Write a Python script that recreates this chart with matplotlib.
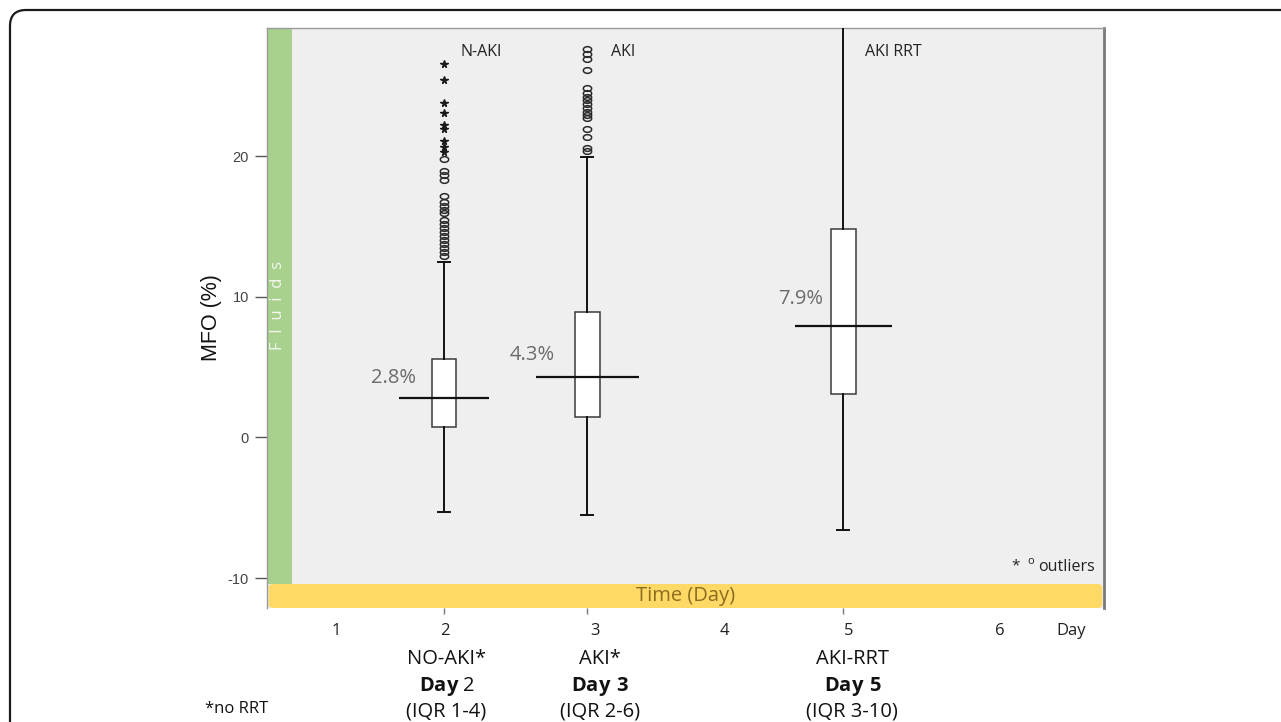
import numpy as np
import matplotlib
matplotlib.use("Agg")
import matplotlib.pyplot as plt
from matplotlib.patches import Rectangle, FancyBboxPatch
from matplotlib.path import Path
from matplotlib import transforms

plt.rcParams["font.family"] = ["Open Sans", "DejaVu Sans"]
plt.rcParams["mathtext.fontset"] = "custom"
plt.rcParams["mathtext.rm"] = "Open Sans"
plt.rcParams["mathtext.bf"] = "Open Sans:bold"

# ---- data -------------------------------------------------------------
groups = ["N-AKI", "AKI", "AKI RRT"]
box_day = [2.0, 3.12, 5.12]          # day at which each group is plotted
whisker_low = [-5.31, -5.52, -6.59]
q1 = [0.73, 1.45, 3.08]
median = [2.8, 4.3, 7.9]
q3 = [5.57, 8.91, 14.81]
whisker_high = [12.47, 19.93, 30.5]

outliers_nonaki = [19.78, 18.93, 18.65, 18.29, 17.15, 16.73, 16.44, 16.16, 15.95,
                   15.45, 15.16, 14.88, 14.60, 14.32, 14.03, 13.75, 13.47, 13.18, 12.90]
extremes_nonaki = [26.54, 25.40, 23.77, 23.06, 22.20, 21.95, 21.06, 20.64, 20.28]
outliers_aki = [27.60, 27.25, 26.89, 26.11, 24.84, 24.49, 24.20, 23.98, 23.70,
                23.41, 23.13, 22.91, 22.70, 21.92, 21.35, 20.57, 20.36]
outliers_rrt = []

day_labels = ["1", "2", "3", "4", "5", "6", "Day"]
group_names = ["NO-AKI*", "AKI*", "AKI-RRT"]
group_days = [r"$\mathbf{Day}$ 2", r"$\mathbf{Day\ 3}$", r"$\mathbf{Day\ 5}$"]
group_iqr = ["(IQR 1-4)", "(IQR 2-6)", "(IQR 3-10)"]
yticks = [-10, 0, 10, 20]

# ---- layout -----------------------------------------------------------
W, H = 1281, 722
fig = plt.figure(figsize=(W / 100, H / 100), dpi=100)
fig.patch.set_facecolor("white")

# rounded outer frame
frame = FancyBboxPatch((0.10, -1.0), 14.0, 7.12 + 1.0,
                       boxstyle="round,pad=0,rounding_size=0.16",
                       transform=fig.dpi_scale_trans, fill=False,
                       edgecolor="#1a1a1a", linewidth=1.6)
fig.patches.append(frame)

ax_l, ax_r, ax_t, ax_b = 267, 1104, 28, 608
ax = fig.add_axes([ax_l / W, 1 - ax_b / H, (ax_r - ax_l) / W, (ax_b - ax_t) / H])
ax.set_facecolor("#efefef")

px_per_day = 128.0
x0 = box_day[0] - (444 - ax_l) / px_per_day
ax.set_xlim(x0, x0 + (ax_r - ax_l) / px_per_day)
ax.set_ylim(-12.13, 29.10)

# coloured bands: fluids (left) and time (bottom)
band_h = (ax_b - 584) / (ax_b - ax_t)
band_w = 25 / (ax_r - ax_l)
ax.add_patch(Rectangle((0, band_h), band_w, 1 - band_h, transform=ax.transAxes,
                       facecolor="#a9d18e", edgecolor="none", zorder=1))
ax.add_patch(FancyBboxPatch((0.002, 0.0), 0.996, band_h,
                            boxstyle="round,pad=0,rounding_size=0.006",
                            transform=ax.transAxes, facecolor="#ffd966",
                            edgecolor="none", zorder=1, clip_on=False))
ax.text(band_w / 2 - 0.002, (ax_b - 306) / (ax_b - ax_t), "F  l  u  i  d  s",
        transform=ax.transAxes, rotation=90, ha="center", va="center",
        fontsize=12, color="#f3f8ef", zorder=2)
ax.text(0.5, band_h / 2, "Time (Day)", transform=ax.transAxes, ha="center",
        va="center", fontsize=14.5, color="#8c6d1f", zorder=2)

# boxes
stats = []
for i in range(len(groups)):
    stats.append(dict(label=groups[i], whislo=whisker_low[i], q1=q1[i],
                      med=median[i], q3=q3[i], whishi=whisker_high[i],
                      fliers=[]))
ax.bxp(stats, positions=box_day, widths=0.19, patch_artist=True,
       showfliers=False, manage_ticks=False,
       boxprops=dict(facecolor="white", edgecolor="#3a3a3a", linewidth=1.1),
       whiskerprops=dict(color="#111111", linewidth=1.4),
       capprops=dict(color="#111111", linewidth=1.4),
       medianprops=dict(linewidth=0), zorder=3)

# wide median bars
med_half = [0.35, 0.40, 0.38]
for d, m, hw in zip(box_day, median, med_half):
    ax.plot([d - hw, d + hw], [m, m], color="#111111", linewidth=1.6, zorder=4,
            solid_capstyle="butt")

# outliers: open ellipses and stars for extremes
ellipse = Path(np.column_stack([np.cos(np.linspace(0, 2 * np.pi, 40)),
                                0.68 * np.sin(np.linspace(0, 2 * np.pi, 40))]))
for d, vals in zip(box_day, [outliers_nonaki, outliers_aki, outliers_rrt]):
    if vals:
        ax.plot([d] * len(vals), vals, linestyle="none", marker=ellipse,
                markersize=6, markerfacecolor="none", markeredgecolor="#2a2a2a",
                markeredgewidth=1.1, zorder=5)
ax.plot([box_day[0]] * len(extremes_nonaki), extremes_nonaki, linestyle="none",
        marker="*", markersize=5.5, color="#1a1a1a", zorder=5)

# median value labels
label_dx = [-28, -33, -20]
label_dy = [10, 12, 17]
for d, m, dx, dy in zip(box_day, median, label_dx, label_dy):
    ax.annotate(f"{m:.1f}%", (d, m), xytext=(dx, dy), textcoords="offset pixels",
                ha="right", va="bottom", fontsize=14.5, color="#6b6b6b", zorder=6)

# group names at top of the plot
name_dx = [16, 24, 22]
for d, g, dx in zip(box_day, groups, name_dx):
    ax.annotate(g, (d, 1.0), xycoords=("data", "axes fraction"),
                xytext=(dx, -24), textcoords="offset pixels",
                ha="left", va="center", fontsize=11.5, color="#222222")

# outlier key
ax.text(0.894, 0.072, "*", transform=ax.transAxes, fontsize=11, ha="center",
        va="center", color="#222222")
ax.text(0.913, 0.080, "o", transform=ax.transAxes, fontsize=8, ha="center",
        va="center", color="#222222")
ax.text(0.989, 0.071, "outliers", transform=ax.transAxes, fontsize=11.5,
        ha="right", va="center", color="#222222")

# axes styling
for side in ["left", "top"]:
    ax.spines[side].set_color("#9a9a9a")
    ax.spines[side].set_linewidth(1.0)
ax.spines["right"].set_color("#7a7a7a")
ax.spines["right"].set_linewidth(2.0)
ax.spines["bottom"].set_visible(False)

ax.set_yticks(yticks)
ax.set_yticklabels([str(t) for t in yticks], family=["Liberation Sans", "DejaVu Sans"])
ax.tick_params(axis="y", direction="out", length=9, width=1, color="#555555",
               labelsize=10.5, labelcolor="#444444", pad=4)
ax.set_xticks(box_day)
ax.set_xticklabels([])
ax.tick_params(axis="x", direction="out", length=4, width=1, color="#777777")

ax.set_ylabel("MFO (%)", fontsize=15.5, family=["Liberation Sans", "DejaVu Sans"],
              color="#111111", labelpad=4)

# day scale and group descriptions under the plot
day_x = [1.16, 2.01, 3.18, 4.19, 5.16, 6.34, 6.90]
yfig = lambda py: 1 - py / H
btrans = transforms.blended_transform_factory(ax.transData, fig.transFigure)
for x, t in zip(day_x, day_labels):
    fig.text(x, yfig(631), t, transform=btrans, ha="center", va="center",
             fontsize=12, color="#222222")

group_x = [2.02, 3.22, 5.19]
for x, n, dl, iq in zip(group_x, group_names, group_days, group_iqr):
    fig.text(x, yfig(659), n, transform=btrans, ha="center", va="center",
             fontsize=14.5, color="#111111")
    fig.text(x, yfig(686), dl, transform=btrans, ha="center", va="center",
             fontsize=14.5, color="#111111")
    fig.text(x, yfig(712), iq, transform=btrans, ha="center", va="center",
             fontsize=14.5, color="#111111")

fig.text(205 / W, yfig(709), "*no RRT", ha="left", va="center", fontsize=12,
         color="#111111")

fig.savefig("out.png", dpi=100)
